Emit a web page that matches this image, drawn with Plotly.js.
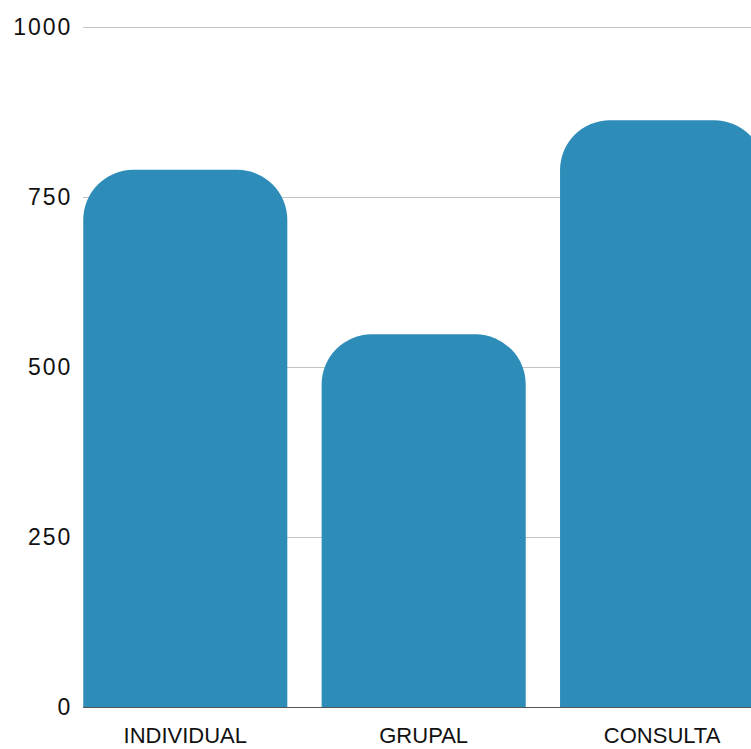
<!DOCTYPE html>
<html>
<head>
<meta charset="utf-8">
<script src="https://cdn.plot.ly/plotly-3.0.1.min.js"></script>
<style>
html,body{margin:0;padding:0;background:#fff;}
#chart{width:751px;height:749px;}
#chart .ytick text{letter-spacing:2px;}
</style>
</head>
<body>
<div id="chart"></div>
<script>
const categories = ["INDIVIDUAL", "GRUPAL", "CONSULTA"];
const values = [790, 548, 863];
const yTicks = [0, 250, 500, 750, 1000];

const trace = {
  type: "bar",
  x: categories,
  y: values,
  marker: { color: "#2e8cb9", cornerradius: 50 },
  hoverinfo: "none"
};

const xFont = { family: "'Liberation Sans', Arial, sans-serif", size: 22, color: "#111111" };
const yFont = { family: "'Liberation Sans', Arial, sans-serif", size: 23, color: "#111111" };

const layout = {
  width: 751,
  height: 749,
  margin: { l: 83, r: 0, t: 26, b: 42 },
  paper_bgcolor: "#ffffff",
  plot_bgcolor: "#ffffff",
  bargap: 0.144,
  showlegend: false,
  font: xFont,
  xaxis: {
    type: "category",
    range: [-0.429, 2.373],
    showgrid: false,
    showline: false,
    zeroline: false,
    ticks: "outside",
    ticklen: 9,
    tickcolor: "rgba(0,0,0,0)",
    tickfont: xFont
  },
  yaxis: {
    range: [0, 1001.5],
    tickvals: yTicks,
    ticktext: yTicks.map(String),
    showgrid: true,
    gridcolor: "#c4c4c4",
    gridwidth: 1,
    zeroline: true,
    zerolinecolor: "#555555",
    zerolinewidth: 1,
    showline: false,
    ticks: "outside",
    ticklen: 5,
    tickcolor: "rgba(0,0,0,0)",
    tickfont: yFont
  }
};

Plotly.newPlot("chart", [trace], layout, { displayModeBar: false, staticPlot: true });
</script>
</body>
</html>
